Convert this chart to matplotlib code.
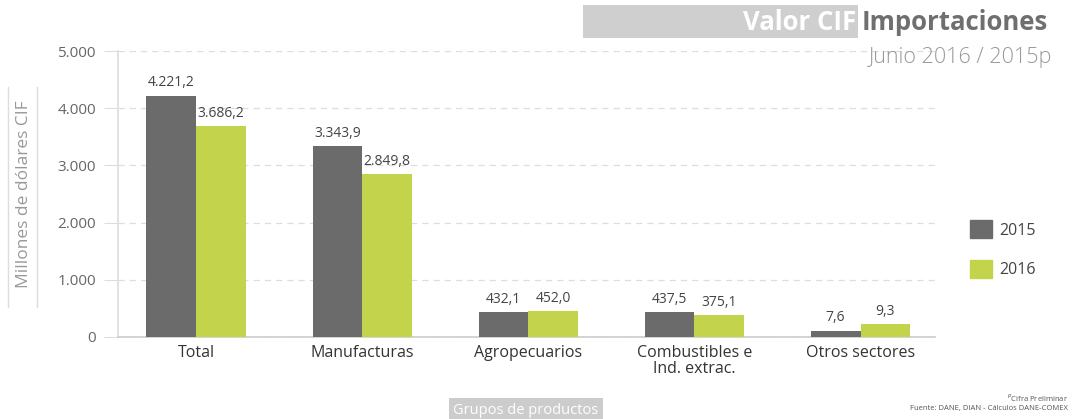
import numpy as np
import matplotlib.pyplot as plt
from matplotlib.patches import Rectangle
from matplotlib.lines import Line2D

plt.rcParams['font.family'] = ['Open Sans', 'DejaVu Sans']

# data
categories = ['Total', 'Manufacturas', 'Agropecuarios', 'Combustibles e\nInd. extrac.', 'Otros sectores']
v2015 = [4221.2, 3343.9, 432.1, 437.5, 110]
v2016 = [3686.2, 2849.8, 452.0, 375.1, 230]
lab2015 = ['4.221,2', '3.343,9', '432,1', '437,5', '7,6']
lab2016 = ['3.686,2', '2.849,8', '452,0', '375,1', '9,3']
yticks = [0, 1000, 2000, 3000, 4000, 5000]
ytick_labels = ['0', '1.000', '2.000', '3.000', '4.000', '5.000']

c2015 = '#6b6b6b'
c2016 = '#c4d34c'
grey_txt = '#666666'

fig = plt.figure(figsize=(10.75, 4.19), dpi=100)
ax = fig.add_axes([0.11, 0.196, 0.76, 0.682])

x = np.arange(len(categories))
w = 0.30
ax.bar(x - w / 2, v2015, w, color=c2015, zorder=3)
ax.bar(x + w / 2, v2016, w, color=c2016, zorder=3)

for i in range(len(x)):
    ax.text(x[i] - w / 2, v2015[i] + 90, lab2015[i], ha='center', va='bottom',
            fontsize=10, color='#444444')
    ax.text(x[i] + w / 2, v2016[i] + 90, lab2016[i], ha='center', va='bottom',
            fontsize=10, color='#444444')

ax.set_xlim(-0.47, 4.45)
ax.set_ylim(0, 5000)
ax.set_yticks(yticks)
ax.set_yticklabels(ytick_labels, fontsize=11, color=grey_txt)
ax.set_xticks(x)
ax.set_xticklabels(categories, fontsize=11.5, color='#333333', linespacing=0.95)
ax.tick_params(axis='x', length=0, pad=6)
ax.tick_params(axis='y', length=10, color='#dddddd', pad=6)
ax.yaxis.grid(True, linestyle=(0, (5, 4)), color='#dddddd', linewidth=0.9, zorder=0)
for s in ['top', 'right']:
    ax.spines[s].set_visible(False)
ax.spines['left'].set_color('#dddddd')
ax.spines['left'].set_linewidth(1.2)
ax.spines['bottom'].set_color('#cccccc')
ax.spines['bottom'].set_linewidth(1.2)

ax.set_ylabel('Millones de dólares CIF', fontsize=12.5, color='#999999')
ax.yaxis.set_label_coords(-0.106, 0.5)
fig.add_artist(Line2D([0.0074, 0.0074], [0.267, 0.792], color='#dddddd', lw=1))
fig.add_artist(Line2D([0.0344, 0.0344], [0.267, 0.792], color='#dddddd', lw=1))

# title block
fig.add_artist(Rectangle((583 / 1075, 1 - 38 / 419), 275 / 1075, 33 / 419,
                         color='#cfcfcf', lw=0))
fig.text(856 / 1075, 1 - 22 / 419, 'Valor CIF', ha='right', va='center',
         fontsize=18.5, fontweight='bold', color='white')
fig.text(862 / 1075, 1 - 22 / 419, 'Importaciones', ha='left', va='center',
         fontsize=18.5, fontweight='bold', color='#6f6f6f')
fig.text(1052 / 1075, 1 - 57 / 419, 'Junio 2016 / 2015p', ha='right', va='center',
         fontsize=15.5, fontweight='light', color='#999999')

# legend
leg = fig.legend(handles=[Rectangle((0, 0), 1, 1, color=c2015),
                          Rectangle((0, 0), 1, 1, color=c2016)],
                 labels=['2015', '2016'], loc='center left',
                 bbox_to_anchor=(0.889, 0.405), frameon=False, fontsize=11.5,
                 handlelength=1.35, handleheight=1.35, labelspacing=1.35,
                 handletextpad=0.45)
for t in leg.get_texts():
    t.set_color('#444444')

# x label box
fig.text(526 / 1075, 1 - 410 / 419, 'Grupos de productos', ha='center', va='center',
         fontsize=10.5, color='white',
         bbox=dict(boxstyle='square,pad=0.3', fc='#cccccc', ec='none'))

# footnote
fig.text(1068 / 1075, 1 - 397 / 419, '$^{p}$Cifra Preliminar', ha='right', va='center',
         fontsize=5.5, color='#555555')
fig.text(1068 / 1075, 1 - 408 / 419, 'Fuente: DANE, DIAN - Cálculos DANE-COMEX',
         ha='right', va='center', fontsize=5.5, color='#555555')

fig.savefig('out.png', dpi=100)
